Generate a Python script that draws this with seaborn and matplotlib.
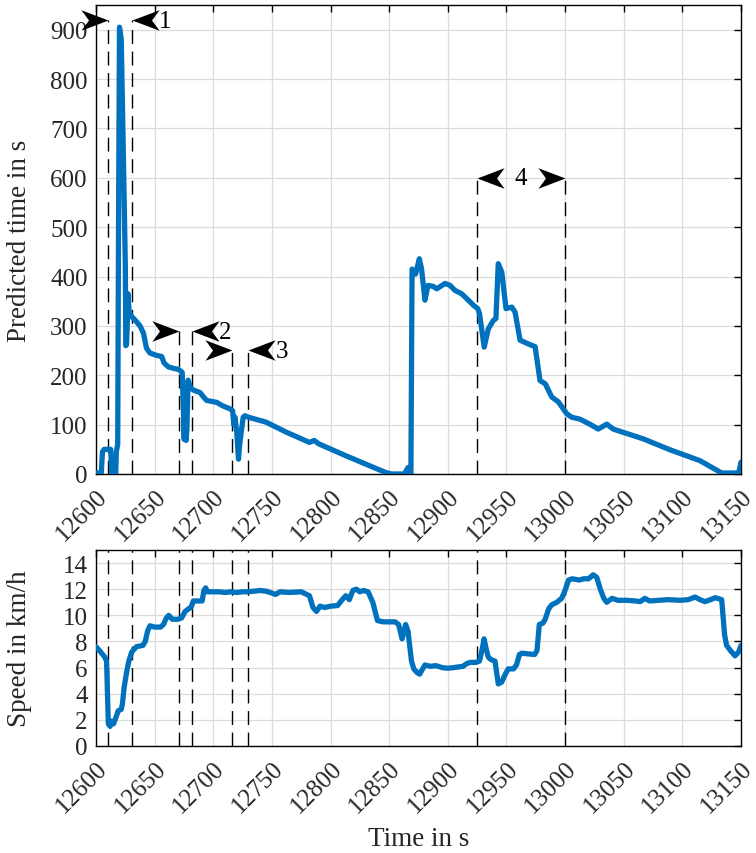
import numpy as np
import pandas as pd
import matplotlib
matplotlib.use("Agg")
import matplotlib.pyplot as plt
from matplotlib.path import Path
import seaborn as sns

# ---------------- data ----------------
pred_t = [12600, 12604.5, 12605.5, 12607, 12612.5, 12613.5, 12616.8, 12617.3, 12618.5, 12619.2,
          12620.0, 12621.5, 12623.3, 12625.0, 12625.4, 12626.0, 12626.6, 12627.3, 12628.2, 12630,
          12634, 12637.5, 12640.5, 12643, 12646, 12652, 12656, 12658, 12661.7, 12666,
          12670.2, 12673.5, 12674.5, 12675.2, 12676, 12676.8, 12677.5, 12678.5, 12680.5, 12683,
          12688.7, 12692, 12694.4, 12703, 12708, 12714.3, 12716.5, 12717.5, 12718.5, 12720,
          12721.5, 12722.5, 12724, 12725.5, 12727, 12730, 12745, 12762, 12782, 12786,
          12790, 12813, 12830, 12847, 12852, 12863, 12866, 12868.5, 12869.5, 12872.5,
          12875.7, 12877.6, 12880.5, 12883, 12887.6, 12890.5, 12897.6, 12901.9, 12906, 12911.8,
          12917.5, 12921.7, 12925.5, 12927, 12931, 12934.5, 12938.8, 12941, 12943, 12946,
          12949.6, 12954.5, 12957.3, 12961.6, 12970, 12974.4, 12978.6, 12983, 12988.6, 12994.3,
          13001.4, 13005.6, 13012.7, 13021, 13028.3, 13035.5, 13041, 13066.8, 13089.5, 13115,
          13133.5, 13148, 13150]
pred_v = [2, 2, 45, 50, 50, 0, 0, 45, 60, 500,
          905, 880, 650, 420, 260, 262, 300, 365, 330, 320,
          310, 300, 285, 255, 245, 240, 238, 225, 217, 214,
          212, 206, 130, 70, 160, 68, 90, 190, 175, 170,
          165, 155, 149, 145, 138, 132, 128, 100, 115, 85,
          30, 60, 88, 115, 118, 115, 105, 85, 64, 68,
          61, 37, 20, 3, 0, 0, 13, 0, 415, 405,
          436, 415, 352, 382, 380, 375, 386, 382, 372, 365,
          352, 342, 335, 325, 257, 294, 311, 315, 426, 409,
          335, 338, 328, 271, 262, 258, 189, 183, 156, 146,
          122, 115, 111, 101, 91, 101, 91, 71, 49, 27,
          2, 2, 24]

speed_t = [12600, 12603, 12607.5, 12609, 12610.5, 12612, 12613, 12615, 12617, 12619,
           12621.5, 12622.5, 12624, 12626, 12628, 12630.5, 12634.5, 12640, 12642, 12644,
           12646, 12650, 12655, 12657.5, 12660, 12662, 12665, 12670, 12673, 12676,
           12679, 12681, 12683, 12688, 12690.5, 12692, 12693.5, 12695, 12705, 12710,
           12715, 12720, 12725, 12730, 12740, 12745, 12750, 12753, 12757, 12765,
           12775, 12782, 12785, 12788, 12791, 12795, 12800, 12806, 12810, 12813,
           12816, 12819, 12822, 12825, 12828, 12832, 12836, 12840, 12845, 12855,
           12858, 12861, 12864, 12866, 12869, 12871, 12874, 12876, 12878.5, 12880.5,
           12885, 12890, 12895, 12900, 12905, 12913, 12916, 12919, 12924, 12927,
           12929.5, 12930.9, 12932.5, 12934.5, 12937, 12940.2, 12943, 12946, 12949, 12951.5,
           12956, 12958.5, 12961, 12963, 12974, 12976, 12978, 12981, 12983, 12986,
           12988.5, 12993, 12997, 12999.5, 13003, 13006, 13012, 13016, 13020, 13024,
           13027, 13030, 13033, 13035.5, 13040, 13045, 13052.5, 13060, 13064, 13068,
           13072, 13080, 13088, 13098, 13105, 13110.8, 13115, 13119.3, 13124, 13128,
           13133.5, 13136, 13137.7, 13141, 13144.9, 13148, 13150]
speed_v = [7.6, 7.3, 6.8, 6.5, 1.7, 1.5, 1.9, 1.7, 2.2, 2.7,
           2.8, 3.2, 4.5, 5.6, 6.5, 7.2, 7.6, 7.7, 8.0, 8.8,
           9.2, 9.1, 9.1, 9.3, 9.8, 10.0, 9.7, 9.7, 9.8, 10.3,
           10.5, 10.6, 11.1, 11.1, 11.1, 11.9, 12.1, 11.8, 11.8, 11.75,
           11.8, 11.75, 11.8, 11.8, 11.9, 11.85, 11.7, 11.6, 11.8, 11.75,
           11.8, 11.5, 10.6, 10.3, 10.7, 10.6, 10.7, 10.75, 11.2, 11.5,
           11.2, 11.9, 12.0, 11.8, 11.9, 11.8, 11.0, 9.6, 9.5, 9.5,
           9.3, 8.2, 9.3, 8.8, 6.5, 5.9, 5.6, 5.5, 5.9, 6.2,
           6.1, 6.15, 6.0, 5.95, 6.0, 6.1, 6.3, 6.4, 6.4, 6.5,
           7.5, 8.2, 7.5, 6.8, 6.6, 6.5, 4.75, 4.9, 5.5, 5.9,
           5.9, 6.2, 7.0, 7.1, 7.0, 7.3, 9.3, 9.4, 9.7, 10.5,
           10.8, 11.0, 11.3, 11.8, 12.7, 12.8, 12.7, 12.8, 12.8, 13.1,
           12.9, 12.0, 11.3, 11.0, 11.3, 11.15, 11.15, 11.1, 11.05, 11.3,
           11.1, 11.15, 11.2, 11.15, 11.2, 11.4, 11.2, 11.05, 11.2, 11.35,
           11.2, 8.5, 7.7, 7.3, 6.9, 7.2, 7.7]

bracket_left = [12610.5, 12671, 12716, 12925]
bracket_right = [12630.5, 12682, 12730, 13000]
bracket_level = [920, 290, 252, 600]
bracket_label = ["1", "2", "3", "4"]
bracket_inward = [True, True, True, False]

x_ticks = list(range(12600, 13151, 50))
pred_ticks = list(range(0, 901, 100))
speed_ticks = list(range(0, 15, 2))

# ---------------- style ----------------
sns.set_theme(style="whitegrid")
plt.rcParams["font.family"] = ["Liberation Serif", "DejaVu Serif"]
plt.rcParams["font.size"] = 18
plt.rcParams["axes.edgecolor"] = "black"
plt.rcParams["text.color"] = "#262626"

LINE = "#0072BD"
fig = plt.figure(figsize=(7.56, 8.54), dpi=100)
ax1 = fig.add_axes([0.1270, 0.4438, 0.8532, 0.5492])
ax2 = fig.add_axes([0.1270, 0.1253, 0.8532, 0.2295])

df_pred = pd.DataFrame({"t": pred_t, "v": pred_v})
df_speed = pd.DataFrame({"t": speed_t, "v": speed_v})
sns.lineplot(data=df_pred, x="t", y="v", ax=ax1, color=LINE, lw=3.8,
             estimator=None, sort=False, zorder=3)
sns.lineplot(data=df_speed, x="t", y="v", ax=ax2, color=LINE, lw=3.8,
             estimator=None, sort=False, zorder=3)

dash = (0, (10, 5.5))
for xl, xr, lev in zip(bracket_left, bracket_right, bracket_level):
    ax1.vlines([xl, xr], 0, lev, colors="black", lw=1.0, linestyles=[dash], zorder=2,
               clip_on=False)
for xs in bracket_left + bracket_right:
    ax2.axvline(xs, color="black", lw=1.0, ls=dash, zorder=2)

# arrow heads (vback style)
verts_r = [(0, 0), (-1, 0.38), (-0.72, 0), (-1, -0.38), (0, 0)]
codes = [Path.MOVETO, Path.LINETO, Path.LINETO, Path.LINETO, Path.CLOSEPOLY]
head_r = Path(verts_r, codes)
head_l = Path([(-x, y) for x, y in verts_r], codes)
MS = 39
for xl, xr, lev, lab, inward in zip(bracket_left, bracket_right, bracket_level,
                                    bracket_label, bracket_inward):
    if inward:
        ax1.plot([xl], [lev], marker=head_r, ms=MS, color="black", mew=0, ls="none",
                 clip_on=False, zorder=5)
        ax1.plot([xr], [lev], marker=head_l, ms=MS, color="black", mew=0, ls="none",
                 clip_on=False, zorder=5)
        ax1.annotate(lab, xy=(xr, lev), xytext=(19.5, -1), textcoords="offset points",
                     ha="left", va="center", fontsize=18, color="black",
                     annotation_clip=False)
    else:
        ax1.plot([xl], [lev], marker=head_l, ms=MS, color="black", mew=0, ls="none",
                 clip_on=False, zorder=5)
        ax1.plot([xr], [lev], marker=head_r, ms=MS, color="black", mew=0, ls="none",
                 clip_on=False, zorder=5)
        ax1.text((xl + xr) / 2, lev, lab, ha="center", va="center", fontsize=18,
                 color="black", zorder=6)

for ax, yt, ylim, ylab in [(ax1, pred_ticks, (0, 950), "Predicted time in s"),
                           (ax2, speed_ticks, (0, 15), "Speed in km/h")]:
    ax.set_xlim(12600, 13150)
    ax.set_ylim(*ylim)
    ax.set_xticks(x_ticks)
    ax.set_xticklabels([str(v) for v in x_ticks], rotation=45, ha="right",
                       va="top", rotation_mode="anchor")
    ax.set_yticks(yt)
    ax.set_yticklabels([str(v) for v in yt])
    ax.grid(True, color="#dcdcdc", lw=0.9)
    ax.set_axisbelow(True)
    ax.tick_params(axis="both", direction="in", length=5, width=1.0, top=True,
                   right=True, labelsize=18, colors="black", labelcolor="#262626")
    ax.tick_params(axis="y", pad=6)
    ax.tick_params(axis="x", pad=8)
    for s in ax.spines.values():
        s.set_color("black")
        s.set_linewidth(1.0)
    ax.set_ylabel(ylab, fontsize=19.5, va="center")
    ax.yaxis.set_label_coords(-0.119, 0.5)
    ax.set_xlabel("")

ax2.set_xlabel("Time in s", fontsize=19.5)
ax2.xaxis.set_label_coords(0.5, -0.41)

fig.savefig("out.png", dpi=100)
